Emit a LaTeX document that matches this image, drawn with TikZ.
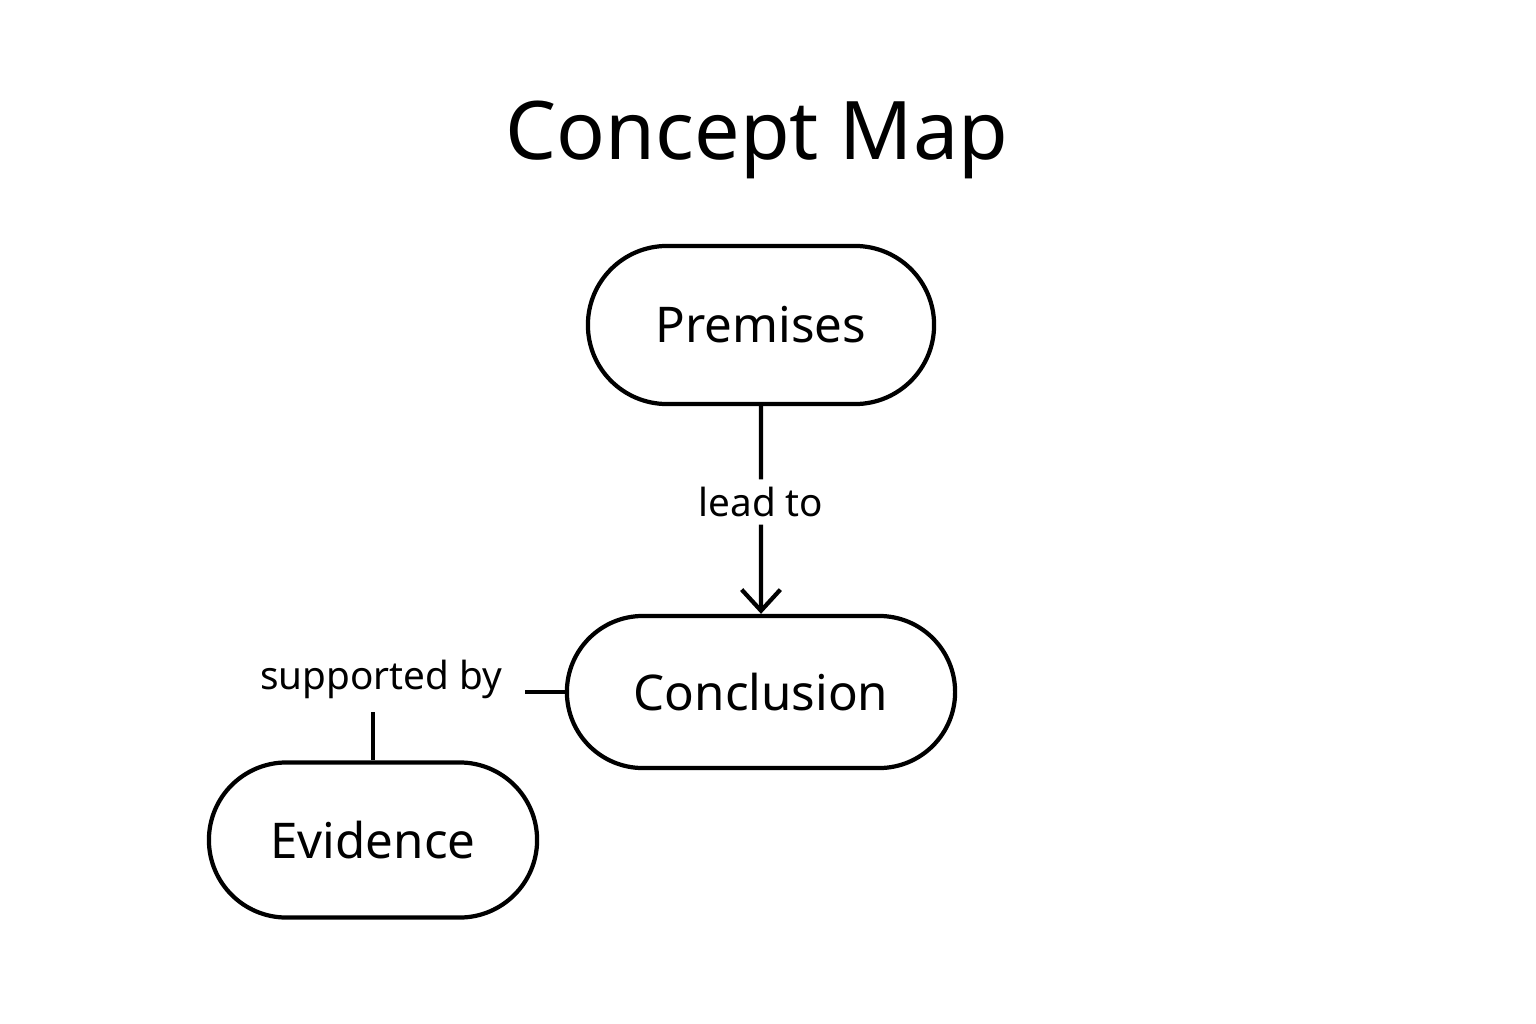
\documentclass[tikz,border=0pt]{standalone}
\usepackage{fontspec}
\setmainfont{Noto Sans}
\usetikzlibrary{positioning,shapes.misc,arrows.meta}

\begin{document}
\begin{tikzpicture}[x=0.01cm,y=-0.01cm,
  concept/.style={draw,rounded rectangle,line width=1.2pt,
    font=\fontsize{14}{16}\selectfont\bfseries,inner sep=0pt},
  link/.style={font=\fontsize{11}{13}\selectfont,inner sep=2pt},
  conn/.style={line width=1.2pt},
  node distance=0.3em]
 \useasboundingbox (0,0) rectangle (1536,1024);
 \node[font=\fontsize{23}{27}\selectfont\bfseries] (title) at (757,140) {Concept Map};
 \node[concept,minimum width=3.46cm,minimum height=1.58cm] (prem) at (761,325) {Premises};
 \node[concept,minimum width=3.88cm,minimum height=1.52cm] (conc) at (761,692) {Conclusion};
 \node[concept,minimum width=3.28cm,minimum height=1.55cm] (evid) at (373,840) {Evidence};
 \node[link] (lead) at (761,502) {lead to};
 \node[link] (supp) at (381,679) {supported by};
 % connectors
 \draw[conn] (prem) -- (lead);
 \draw[conn,-{Straight Barb[length=6pt,width=11pt]}] (lead) -- (conc);
 \draw[conn] (conc.west) -- ++(-40,0);
 \draw[conn] (supp.south -| evid.north) ++(0,6) -- (evid.north);
\end{tikzpicture}
\end{document}
